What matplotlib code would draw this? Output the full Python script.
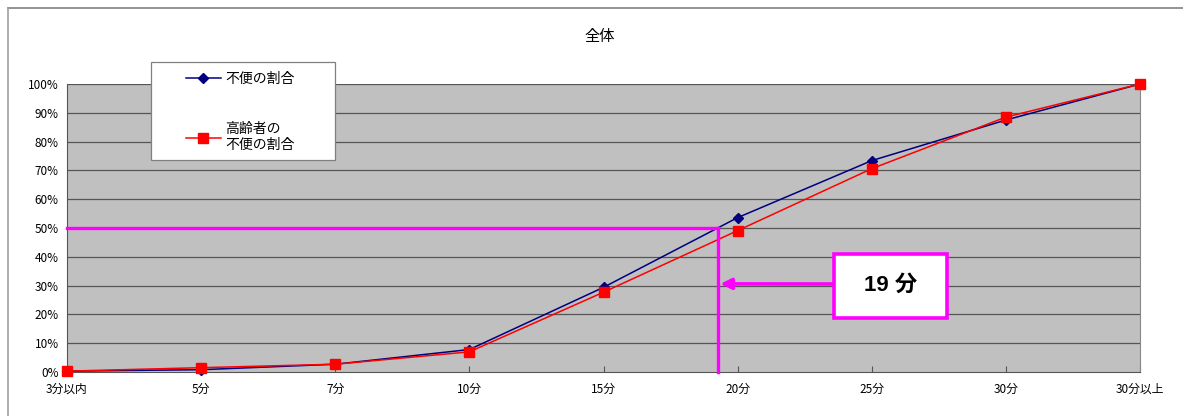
import numpy as np
import matplotlib.pyplot as plt
from matplotlib.patches import Rectangle
from matplotlib.lines import Line2D

plt.rcParams['font.family'] = ['Noto Sans CJK JP', 'DejaVu Sans']

# データ
categories = ['3分以内', '5分', '7分', '10分', '15分', '20分', '25分', '30分', '30分以上']
fuben = [0.3, 0.8, 2.7, 7.8, 29.4, 53.6, 73.4, 87.5, 100.0]
koreisha = [0.3, 1.5, 2.7, 7.0, 27.7, 49.1, 70.6, 88.5, 100.0]
yticks = list(range(0, 101, 10))
threshold = 50
note_label = '19 分'

x = np.arange(len(categories))
W, H = 1183, 416

fig = plt.figure(figsize=(W / 100, H / 100), dpi=100)
ax = fig.add_axes([67 / W, 44 / H, (1140 - 67) / W, (372 - 84) / H])
ax.set_facecolor('#c0c0c0')

# 外枠
fig.add_artist(Line2D([8 / W, 1], [1 - 8 / H, 1 - 8 / H], color='#808080', lw=1.2,
                      transform=fig.transFigure))
fig.add_artist(Line2D([8 / W, 8 / W], [0, 1 - 8 / H], color='#a0a0a0', lw=1.2,
                      transform=fig.transFigure))

for y in yticks[1:]:
    ax.axhline(y, color='#555555', lw=0.9, zorder=1)

l1, = ax.plot(x, fuben, color='#000080', lw=1.1, marker='D', markersize=5,
              clip_on=False, zorder=3, label='不便の割合')
l2, = ax.plot(x, koreisha, color='#ff0000', lw=1.1, marker='s', markersize=7,
              clip_on=False, zorder=4, label='高齢者の\n不便の割合')

ax.set_xlim(0, len(categories) - 1)
ax.set_ylim(0, 100)
ax.set_xticks(x)
ax.set_xticklabels(categories, fontsize=8.5)
ax.set_yticks(yticks)
ax.set_yticklabels(['%d%%' % v for v in yticks], fontsize=8.5)
ax.tick_params(axis='x', direction='in', length=4, color='#555555', pad=8)
ax.tick_params(axis='y', length=0, pad=6)
for s in ['left', 'bottom']:
    ax.spines[s].set_color('#555555')
ax.spines['right'].set_color('#888888')
ax.spines['top'].set_visible(False)

fig.text(600 / W, 1 - 36 / H, '全体', ha='center', va='center', fontsize=11)

# 50% 到達点の注記
cross_x = np.interp(threshold, fuben, x)
magenta = '#ff00ff'
ax.plot([0, cross_x], [threshold, threshold], color=magenta, lw=2.4, zorder=5, clip_on=False)
ax.plot([cross_x, cross_x], [threshold, 0], color=magenta, lw=2.4, zorder=5, clip_on=False)

box = Rectangle((0.7148, 0.1875), 0.8201 - 0.7148, 0.4097 - 0.1875, transform=ax.transAxes,
                fc='white', ec=magenta, lw=2.6, zorder=7)
ax.add_patch(box)
ax.text(0.7675, 0.30, note_label, transform=ax.transAxes, ha='center', va='center',
        fontsize=16, fontweight='bold', family=['Liberation Sans', 'Noto Sans CJK JP'],
        zorder=8)
ax.annotate('', xy=(cross_x + 0.02, 30.6), xycoords='data',
            xytext=(0.7148, (372 - 284) / 288), textcoords='axes fraction',
            arrowprops=dict(arrowstyle='-|>', color=magenta, lw=2.6, mutation_scale=16,
                            shrinkA=0, shrinkB=0),
            zorder=6)

# 凡例（枠は別に描く）
frame = Rectangle((151 / W, 1 - 160 / H), (335 - 151) / W, (160 - 62) / H,
                  transform=fig.transFigure, fc='white', ec='#808080', lw=0.9, zorder=9)
fig.add_artist(frame)
leg = fig.legend(handles=[l1, l2], loc='upper left',
                 bbox_to_anchor=(186 / W, 1 - 72 / H), bbox_transform=fig.transFigure,
                 frameon=False, fontsize=10, labelspacing=2.6, handlelength=2.5,
                 handletextpad=0.3, borderpad=0, borderaxespad=0)
leg.set_zorder(10)

fig.savefig('out.png', dpi=100)
